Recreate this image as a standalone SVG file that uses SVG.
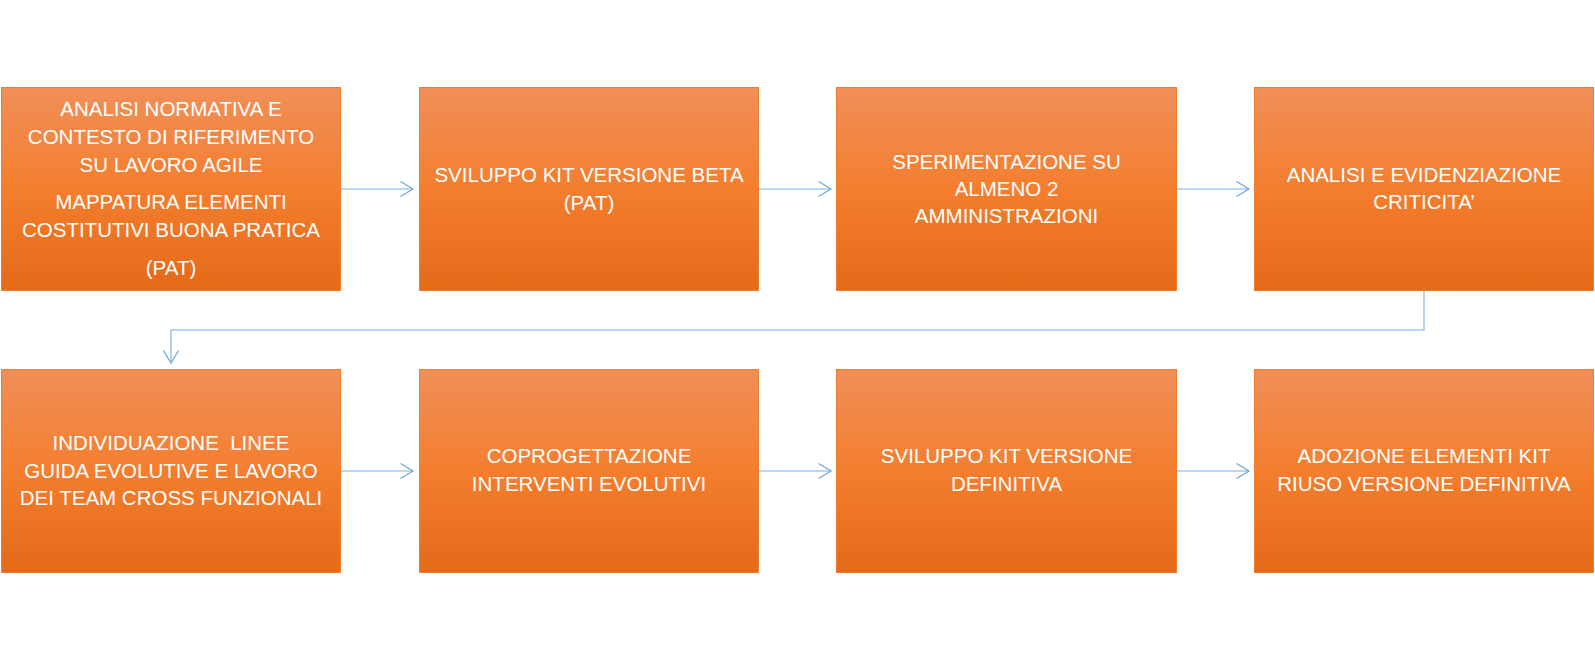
<svg xmlns="http://www.w3.org/2000/svg" width="1595" height="660" viewBox="0 0 1595 660">
  <defs>
    <linearGradient id="og" x1="0" y1="0" x2="0" y2="1">
      <stop offset="0" stop-color="#F08F58"/>
      <stop offset="0.5" stop-color="#F47E2E"/>
      <stop offset="1" stop-color="#E46A18"/>
    </linearGradient>
    <marker id="ah" markerWidth="16" markerHeight="18" refX="13" refY="8" orient="auto" markerUnits="userSpaceOnUse">
      <path d="M0.5,0.5 L13,8 L0.5,15.5" fill="none" stroke="#6FA5DA" stroke-width="1.2"/>
    </marker>
  </defs>
  <style>
    .box { fill: url(#og); stroke: #ED7D31; stroke-width: 1; }
    .t { font-family: "Liberation Sans", Arial, sans-serif; font-size: 20.5px; fill: #FFFFFF; text-anchor: middle; white-space: pre; }
    .c { fill: none; stroke: #A4C8E8; stroke-width: 1.6; marker-end: url(#ah); }
  </style>
  <rect width="1595" height="660" fill="#FFFFFF"/>

  <g id="connectors">
    <path class="c" d="M341,189 H413"/>
    <path class="c" d="M759,189 H831"/>
    <path class="c" d="M1177,189 H1249"/>
    <path class="c" d="M1424,291 V330 H171 V363"/>
    <path class="c" d="M341,471 H413"/>
    <path class="c" d="M759,471 H831"/>
    <path class="c" d="M1177,471 H1249"/>
  </g>

  <g id="node1">
    <rect class="box" x="1.5" y="87.5" width="339" height="203"/>
    <text class="t" x="171" y="116">ANALISI NORMATIVA E</text>
    <text class="t" x="171" y="144">CONTESTO DI RIFERIMENTO</text>
    <text class="t" x="171" y="172">SU LAVORO AGILE</text>
    <text class="t" x="171" y="209">MAPPATURA ELEMENTI</text>
    <text class="t" x="171" y="237">COSTITUTIVI BUONA PRATICA</text>
    <text class="t" x="171" y="275">(PAT)</text>
  </g>
  <g id="node2">
    <rect class="box" x="419.5" y="87.5" width="339" height="203"/>
    <text class="t" x="589" y="182">SVILUPPO KIT VERSIONE BETA</text>
    <text class="t" x="589" y="210">(PAT)</text>
  </g>
  <g id="node3">
    <rect class="box" x="836.5" y="87.5" width="340" height="203"/>
    <text class="t" x="1006.5" y="169">SPERIMENTAZIONE SU</text>
    <text class="t" x="1006.5" y="196">ALMENO 2</text>
    <text class="t" x="1006.5" y="223">AMMINISTRAZIONI</text>
  </g>
  <g id="node4">
    <rect class="box" x="1254.5" y="87.5" width="339" height="203"/>
    <text class="t" x="1424" y="182">ANALISI E EVIDENZIAZIONE</text>
    <text class="t" x="1424" y="209">CRITICITA’</text>
  </g>
  <g id="node5">
    <rect class="box" x="1.5" y="369.5" width="339" height="203"/>
    <text class="t" x="171" y="450">INDIVIDUAZIONE  LINEE</text>
    <text class="t" x="171" y="477.5">GUIDA EVOLUTIVE E LAVORO</text>
    <text class="t" x="171" y="505">DEI TEAM CROSS FUNZIONALI</text>
  </g>
  <g id="node6">
    <rect class="box" x="419.5" y="369.5" width="339" height="203"/>
    <text class="t" x="589" y="463">COPROGETTAZIONE</text>
    <text class="t" x="589" y="491">INTERVENTI EVOLUTIVI</text>
  </g>
  <g id="node7">
    <rect class="box" x="836.5" y="369.5" width="340" height="203"/>
    <text class="t" x="1006.5" y="463">SVILUPPO KIT VERSIONE</text>
    <text class="t" x="1006.5" y="491">DEFINITIVA</text>
  </g>
  <g id="node8">
    <rect class="box" x="1254.5" y="369.5" width="339" height="203"/>
    <text class="t" x="1424" y="463">ADOZIONE ELEMENTI KIT</text>
    <text class="t" x="1424" y="491">RIUSO VERSIONE DEFINITIVA</text>
  </g>
</svg>
